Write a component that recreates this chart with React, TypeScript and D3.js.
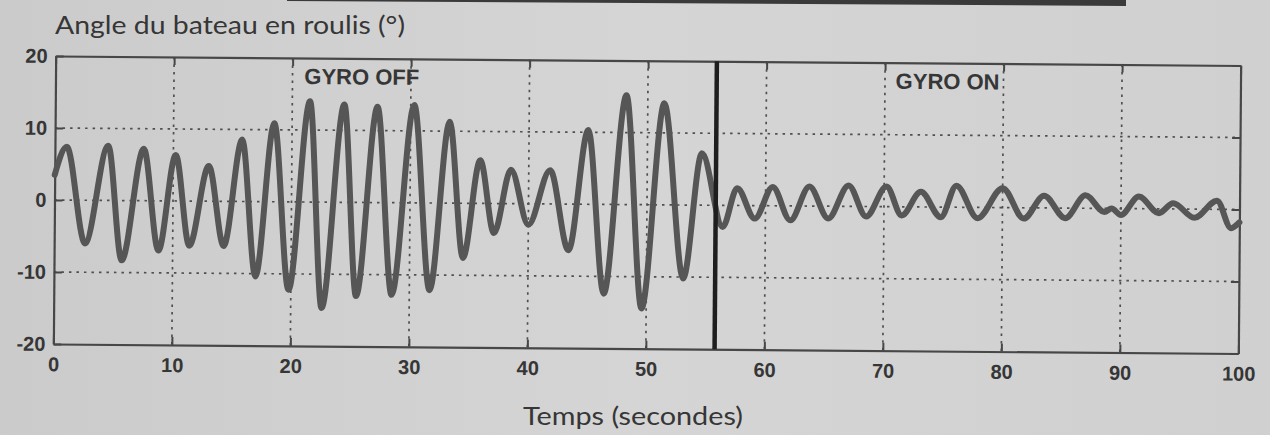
import React, { useEffect, useRef } from 'react';
import * as d3 from 'd3';

// roll angle extrema (seconds, degrees)
const times = [
  0, 1.0, 2.6, 4.5, 5.7, 7.5, 8.8, 10.2, 11.4, 13.0, 14.3, 15.8, 17.0, 18.5, 19.8,
  21.5, 22.6, 24.4, 25.5, 27.2, 28.5, 30.3, 31.7, 33.3, 34.5, 35.9, 37.1, 38.5,
  40.0, 41.8, 43.4, 45.0, 46.4, 48.2, 49.6, 51.4, 53.1, 54.6, 56.4, 57.6, 59.1,
  60.6, 62.1, 63.7, 65.3, 67.0, 68.5, 70.2, 71.5, 73.1, 74.8, 76.1, 77.9, 80.0,
  81.8, 83.5, 85.3, 87.0, 88.6, 89.2, 90.0, 91.5, 93.2, 94.4, 96.2, 98.1, 99.3, 100,
];
const angles = [
  3.5, 7.4, -6.0, 7.6, -8.3, 7.2, -6.9, 6.4, -6.2, 4.9, -6.2, 8.6, -10.4, 10.9, -12.2,
  14.0, -14.7, 13.6, -13.0, 13.3, -12.8, 13.6, -12.1, 11.3, -7.6, 6.0, -4.1, 4.7,
  -2.9, 4.7, -6.4, 10.3, -12.4, 15.2, -14.4, 14.1, -10.2, 7.2, -3.0, 2.4, -1.8,
  2.6, -2.0, 2.7, -1.7, 2.9, -1.4, 2.8, -1.2, 2.1, -1.4, 3.0, -1.5, 2.7,
  -1.5, 1.7, -1.4, 1.8, -0.5, 0.0, -0.9, 1.7, -0.6, 0.8, -1.2, 1.2, -2.6, -1.8,
];
const xTicks = [0, 10, 20, 30, 40, 50, 60, 70, 80, 90, 100];
const yTicks = [-20, -10, 0, 10, 20];
const gyroSwitch = 55.8;
const phaseNames = ['GYRO OFF', 'GYRO ON'];
const yTitle = 'Angle du bateau en roulis (°)';
const xTitle = 'Temps (secondes)';

const W = 1270;
const H = 435;

export default function App() {
  const svgRef = useRef<SVGSVGElement>(null);

  useEffect(() => {
    if (!svgRef.current) return;
    const svg = d3.select(svgRef.current);
    svg.selectAll('*').remove();

    const left = 54.5;
    const top = 60.75;
    const width = 1185;
    const height = 288;

    // paper background
    const defs = svg.append('defs');
    const grad = defs
      .append('linearGradient')
      .attr('id', 'paper')
      .attr('x1', 0)
      .attr('x2', 1)
      .attr('y1', 0)
      .attr('y2', 0);
    grad.append('stop').attr('offset', 0).attr('stop-color', '#cbcbcb');
    grad.append('stop').attr('offset', 0.5).attr('stop-color', '#d5d5d5');
    grad.append('stop').attr('offset', 1).attr('stop-color', '#d0d0d0');
    svg.append('rect').attr('width', W).attr('height', H).attr('fill', 'url(#paper)');

    // dark strip at the top edge of the photo
    svg
      .append('polygon')
      .attr('points', '287,0 1126,0 1126,6 287,1')
      .attr('fill', '#3a3a3a');

    const x = d3.scaleLinear().domain([0, 100]).range([left, left + width]);
    const y = d3.scaleLinear().domain([-20, 20]).range([top + height, top]);

    const g = svg
      .append('g')
      .attr('transform', `rotate(0.46, ${left + width / 2}, ${top + height / 2})`);

    const ink = '#363636';
    const fmt = (d: d3.NumberValue) => String(d);

    // dotted grid
    const grid = g.append('g').attr('stroke', '#4f4f4f').attr('stroke-width', 1.7).attr('stroke-dasharray', '2.5,5');
    grid
      .selectAll('line.v')
      .data(xTicks.slice(1, -1))
      .enter()
      .append('line')
      .attr('x1', (d) => x(d))
      .attr('x2', (d) => x(d))
      .attr('y1', top)
      .attr('y2', top + height);
    grid
      .selectAll('line.h')
      .data(yTicks.slice(1, -1))
      .enter()
      .append('line')
      .attr('x1', left)
      .attr('x2', left + width)
      .attr('y1', (d) => y(d))
      .attr('y2', (d) => y(d));

    // axes with inward ticks
    const bottom = g
      .append('g')
      .attr('transform', `translate(0,${top + height})`)
      .call(d3.axisBottom(x).tickValues(xTicks).tickFormat(fmt).tickSizeInner(-8).tickSizeOuter(0).tickPadding(13));
    const leftAx = g
      .append('g')
      .attr('transform', `translate(${left},0)`)
      .call(d3.axisLeft(y).tickValues(yTicks).tickFormat(fmt).tickSizeInner(-8).tickSizeOuter(0).tickPadding(8));
    g.append('g')
      .attr('transform', `translate(0,${top})`)
      .call(d3.axisTop(x).tickValues(xTicks).tickSizeInner(-8).tickSizeOuter(0).tickFormat(() => ''));
    g.append('g')
      .attr('transform', `translate(${left + width},0)`)
      .call(d3.axisRight(y).tickValues(yTicks).tickSizeInner(-8).tickSizeOuter(0).tickFormat(() => ''));

    g.selectAll('.domain').attr('stroke', '#474747').attr('stroke-width', 2.2);
    g.selectAll('.tick line').attr('stroke', '#474747').attr('stroke-width', 2);
    [bottom, leftAx].forEach((ax) =>
      ax
        .selectAll('text')
        .attr('fill', ink)
        .style('font-family', '"Liberation Sans", Arial, sans-serif')
        .style('font-size', '20px')
        .style('font-weight', 'bold')
    );
    bottom.selectAll('text').attr('dy', '0.71em');

    // roll trace
    const line = d3
      .line<number>()
      .x((_, i) => x(times[i]))
      .y((d) => y(d))
      .curve(d3.curveMonotoneX);
    g.append('path')
      .attr('d', line(angles))
      .attr('fill', 'none')
      .attr('stroke', '#565656')
      .attr('stroke-width', 6)
      .attr('stroke-linejoin', 'round')
      .attr('stroke-linecap', 'round');

    // gyro switch marker
    g.append('line')
      .attr('x1', x(gyroSwitch))
      .attr('x2', x(gyroSwitch))
      .attr('y1', top)
      .attr('y2', top + height)
      .attr('stroke', '#1e1e1e')
      .attr('stroke-width', 4.5);

    g.selectAll('text.phase')
      .data(phaseNames)
      .enter()
      .append('text')
      .attr('class', 'phase')
      .attr('x', (_, i) => x(i === 0 ? 21 : 70.9))
      .attr('y', top + 26)
      .attr('fill', ink)
      .style('font-family', '"Liberation Sans", Arial, sans-serif')
      .style('font-size', '22px')
      .style('font-weight', 'bold')
      .text((d) => d);

    // titles
    svg
      .append('text')
      .attr('x', 55)
      .attr('y', 34)
      .attr('fill', ink)
      .attr('textLength', 350)
      .attr('lengthAdjust', 'spacingAndGlyphs')
      .style('font-family', 'Lato, "Open Sans", sans-serif')
      .style('font-size', '25px')
      .text(yTitle);
    svg
      .append('text')
      .attr('x', 523)
      .attr('y', 425)
      .attr('fill', ink)
      .attr('textLength', 220)
      .attr('lengthAdjust', 'spacingAndGlyphs')
      .style('font-family', 'Lato, "Open Sans", sans-serif')
      .style('font-size', '25px')
      .text(xTitle);
  }, []);

  return (
    <svg
      ref={svgRef}
      width={W}
      height={H}
      style={{ position: 'absolute', left: 0, top: 0, display: 'block' }}
    />
  );
}
